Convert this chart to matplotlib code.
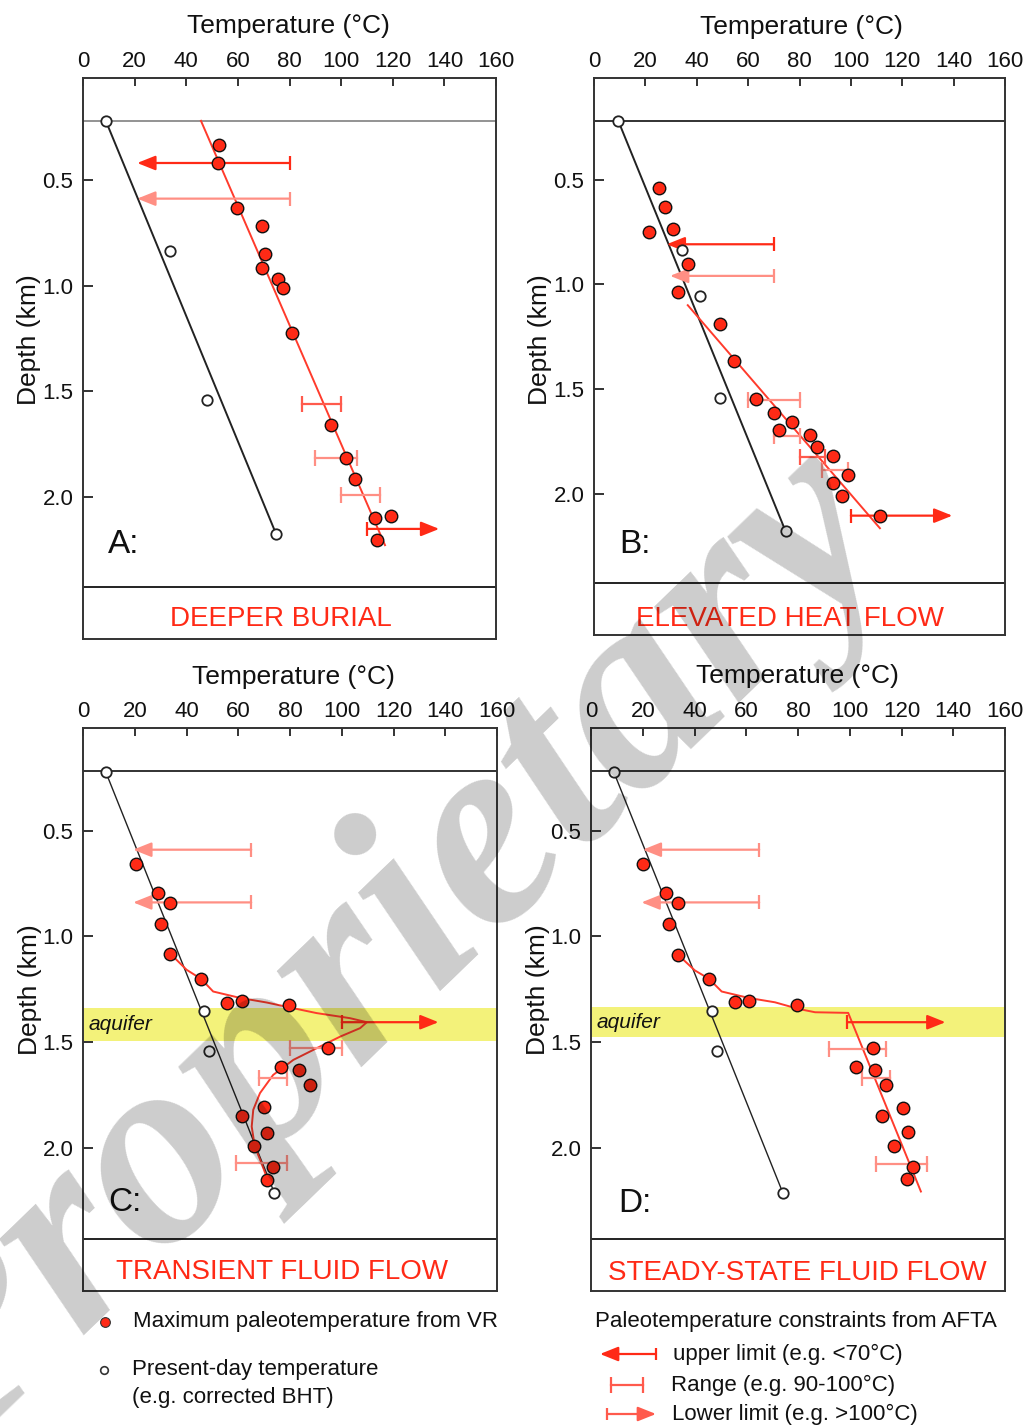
import matplotlib
matplotlib.use("Agg")
import matplotlib.pyplot as plt

plt.rcParams["font.family"] = ["Liberation Sans", "DejaVu Sans"]

W, H = 1032, 1428
RED = "#ff2a16"
MID = "#ff5a4c"
PALE = "#ff8f84"
LINE_RED = "#ff3b2c"
INK = "#222222"

TEMP_TICKS = [0, 20, 40, 60, 80, 100, 120, 140, 160]
DEPTH_TICKS = [0.5, 1.0, 1.5, 2.0]
DEPTH_LABELS = ["0.5", "1.0", "1.5", "2.0"]
SURFACE_D = 0.22
BASE_D = 2.428          # line above the scenario caption

# ---- A: deeper burial ----
A_vr_T = [52.8, 52.4, 59.8, 69.4, 70.5, 69.4, 75.4, 77.6, 81.1, 96.0, 101.8, 105.4, 113.1, 119.4, 113.8]
A_vr_d = [0.334, 0.418, 0.631, 0.715, 0.851, 0.917, 0.966, 1.009, 1.224, 1.658, 1.816, 1.914, 2.100, 2.091, 2.205]
A_bht_T = [8.9, 33.7, 48.2, 74.8]
A_bht_d = [0.22, 0.837, 1.54, 2.177]
A_grad_T = [8.9, 74.8]
A_grad_d = [0.22, 2.177]
A_model_T = [45.7, 117.0]
A_model_d = [0.218, 2.23]
A_upper = [(0.418, 80, 21)]
A_upper_pale = [(0.587, 80, 21)]
A_range = [(1.56, 85, 100)]
A_range_pale = [(1.816, 90, 106), (1.99, 100, 115)]
A_lower = [(2.153, 110, 138)]

# ---- B: elevated heat flow ----
B_vr_T = [25.4, 27.7, 30.6, 21.4, 36.7, 32.7, 49.0, 54.4, 63.1, 70.0, 77.0, 72.0, 84.1, 86.8,
          93.0, 99.0, 93.0, 96.6, 111.4]
B_vr_d = [0.54, 0.63, 0.734, 0.751, 0.902, 1.035, 1.188, 1.365, 1.549, 1.615, 1.658, 1.695, 1.72, 1.779,
          1.822, 1.913, 1.949, 2.013, 2.105]
B_bht_T = [9.5, 34.1, 41.2, 49.0, 74.6]
B_bht_d = [0.221, 0.837, 1.055, 1.544, 2.18]
B_grad_T = [9.5, 74.6]
B_grad_d = [0.221, 2.18]
B_model_T = [36.5, 111.3]
B_model_d = [1.10, 2.165]
B_upper = [(0.809, 70, 28.3)]
B_upper_pale = [(0.96, 70, 29.6)]
B_range = [(1.825, 80, 90)]
B_range_pale = [(1.555, 60, 80), (1.727, 70, 80), (1.886, 88.6, 99)]
B_lower = [(2.105, 100, 139.5)]

# ---- C: transient fluid flow ----
C_vr_T = [20.4, 28.8, 33.8, 30.2, 33.8, 45.7, 55.7, 61.3, 79.7, 94.8, 76.6, 83.6, 87.7, 69.9,
          61.5, 71.3, 66.2, 73.5, 71.3]
C_vr_d = [0.658, 0.795, 0.842, 0.939, 1.082, 1.201, 1.312, 1.304, 1.323, 1.528, 1.618, 1.630, 1.703, 1.808,
          1.846, 1.927, 1.990, 2.088, 2.150]
C_bht_T = [8.8, 46.7, 48.8, 74.0]
C_bht_d = [0.223, 1.351, 1.539, 2.213]
C_grad_T = [8.8, 74.0]
C_grad_d = [0.223, 2.213]
C_model_T = [33.8, 40.0, 45.7, 50.3, 60.6, 71.0, 81.3, 90.3, 103.2, 109.7, 107.1, 99.4, 91.6,
             81.3, 73.5, 68.4, 65.8, 65.2, 66.4, 69.0, 70.9, 71.5]
C_model_d = [1.082, 1.157, 1.201, 1.26, 1.29, 1.312, 1.339, 1.362, 1.386, 1.405, 1.433, 1.473, 1.52,
             1.583, 1.654, 1.74, 1.819, 1.898, 1.993, 2.071, 2.135, 2.159]
C_upper_pale = [(0.59, 65, 19.4), (0.839, 65, 19.4)]
C_range_pale = [(1.528, 80, 100), (1.67, 68, 79), (2.07, 59, 79)]
C_lower = [(1.405, 100, 137.4)]
C_aquifer = (1.336, 1.493)

# ---- D: steady-state fluid flow ----
D_vr_T = [20.2, 28.9, 33.6, 30.0, 33.6, 45.6, 55.7, 61.2, 79.7, 108.9, 102.6, 109.7, 113.9, 120.7,
          112.3, 122.4, 117.1, 124.3, 122.2]
D_vr_d = [0.658, 0.795, 0.842, 0.939, 1.086, 1.200, 1.311, 1.303, 1.323, 1.528, 1.618, 1.630, 1.702, 1.811,
          1.846, 1.924, 1.989, 2.087, 2.146]
D_bht_T = [8.8, 46.6, 48.6, 74.1]
D_bht_d = [0.223, 1.354, 1.539, 2.21]
D_grad_T = [8.8, 74.1]
D_grad_d = [0.223, 2.21]
D_model_T = [33.6, 40.1, 45.6, 50.5, 60.8, 71.1, 80.1, 86.6, 99.4, 127.5]
D_model_d = [1.086, 1.16, 1.2, 1.26, 1.29, 1.311, 1.342, 1.358, 1.361, 2.205]
D_upper_pale = [(0.59, 65, 20), (0.839, 65, 19.5)]
D_range_pale = [(1.531, 92, 114), (1.669, 104.6, 115.6), (2.073, 110, 130)]
D_lower = [(1.405, 99, 137)]
D_aquifer = (1.335, 1.476)


def arrow_limit(ax, d, limit, end, color, ms=10):
    ax.annotate("", xy=(end, d), xytext=(limit, d),
                arrowprops=dict(arrowstyle="-|>,head_length=0.55,head_width=0.22",
                                color=color, lw=1.6, shrinkA=0, shrinkB=0,
                                mutation_scale=20), zorder=4)
    ax.plot([limit], [d], marker="|", ms=ms, mew=1.6, color=color, zorder=4)


def t_range(ax, d, lo, hi, color):
    ax.plot([lo, hi], [d, d], color=color, lw=1.6, marker="|", ms=11, mew=1.6, zorder=4)


def panel(rect, vr_T, vr_d, bht_T, bht_d, grad_T, grad_d, model_T, model_d,
          upper=(), upper_pale=(), ranges=(), ranges_pale=(), lower=(),
          aquifer=None, surf_color=INK, grad_lw=1.4):
    l, t, r, b = rect
    ax = fig.add_axes([l / W, 1 - b / H, (r - l) / W, (b - t) / H])
    ax.set_xlim(0, 160)
    ax.set_ylim(2.675, 0.015)
    ax.xaxis.tick_top()
    ax.set_xticks(TEMP_TICKS)
    ax.set_yticks(DEPTH_TICKS, DEPTH_LABELS)
    ax.tick_params(axis="x", direction="in", length=6, width=1.2, labelsize=16,
                   pad=4, top=True, bottom=False, colors="#111111")
    ax.tick_params(axis="y", direction="in", length=7, width=1.2, labelsize=16,
                   pad=7, right=False, colors="#111111")
    for s in ax.spines.values():
        s.set_color("#333333")
        s.set_linewidth(1.4)

    if aquifer is not None:
        ax.axhspan(aquifer[0], aquifer[1], color="#f3f27a", zorder=0.5, lw=0)
        ax.text(2, (aquifer[0] + aquifer[1]) / 2, "aquifer", style="italic",
                fontsize=15, va="center", ha="left", color="#111111", zorder=1)
    ax.axhline(SURFACE_D, color=surf_color, lw=1.3, zorder=1)
    ax.axhline(BASE_D, color=INK, lw=1.4, zorder=1)

    ax.plot(grad_T, grad_d, color=INK, lw=grad_lw, zorder=2)
    ax.plot(model_T, model_d, color=LINE_RED, lw=1.4, zorder=2)

    for d, lim, end in upper:
        arrow_limit(ax, d, lim, end, RED)
    for d, lim, end in upper_pale:
        arrow_limit(ax, d, lim, end, PALE)
    for d, lo, hi in ranges:
        t_range(ax, d, lo, hi, MID)
    for d, lo, hi in ranges_pale:
        t_range(ax, d, lo, hi, PALE)
    for d, lim, end in lower:
        arrow_limit(ax, d, lim, end, RED)

    ax.plot(bht_T, bht_d, "o", ms=7.5, mfc="white", mec=INK, mew=1.3, zorder=5)
    ax.plot(vr_T, vr_d, "o", ms=9, mfc=RED, mec="#111111", mew=1.0, zorder=6)
    return ax


fig = plt.figure(figsize=(W / 100, H / 100), dpi=100)
fig.patch.set_facecolor("white")

panel((83, 78, 496, 639), A_vr_T, A_vr_d, A_bht_T, A_bht_d, A_grad_T, A_grad_d,
      A_model_T, A_model_d, upper=A_upper, upper_pale=A_upper_pale,
      ranges=A_range, ranges_pale=A_range_pale, lower=A_lower, surf_color="#8a8a8a")
panel((594, 78, 1005, 635), B_vr_T, B_vr_d, B_bht_T, B_bht_d, B_grad_T, B_grad_d,
      B_model_T, B_model_d, upper=B_upper, upper_pale=B_upper_pale,
      ranges=B_range, ranges_pale=B_range_pale, lower=B_lower)
panel((83, 728, 497, 1291), C_vr_T, C_vr_d, C_bht_T, C_bht_d, C_grad_T, C_grad_d,
      C_model_T, C_model_d, upper_pale=C_upper_pale, ranges_pale=C_range_pale,
      lower=C_lower, aquifer=C_aquifer, grad_lw=1.0)
panel((591, 728, 1005, 1291), D_vr_T, D_vr_d, D_bht_T, D_bht_d, D_grad_T, D_grad_d,
      D_model_T, D_model_d, upper_pale=D_upper_pale, ranges_pale=D_range_pale,
      lower=D_lower, aquifer=D_aquifer, grad_lw=1.0)

# overlay in pixel units for labels, legend and watermark
ov = fig.add_axes([0, 0, 1, 1], zorder=10)
ov.set_xlim(0, W)
ov.set_ylim(H, 0)
ov.axis("off")

titles = [(288, 33, 29, 340, 108, 553, 281, 626, "A:", "DEEPER BURIAL"),
          (801, 34, 540, 340, 619, 553, 790, 626, "B:", "ELEVATED HEAT FLOW"),
          (293, 684, 30, 990, 108, 1211, 282, 1279, "C:", "TRANSIENT FLUID FLOW"),
          (797, 683, 538, 990, 618, 1212, 797, 1280, "D:", "STEADY-STATE FLUID FLOW")]
for tx, ty, yx, yy, lx, ly, bx, by, letter, caption in titles:
    ov.text(tx, ty, "Temperature (°C)", fontsize=19, ha="center", va="baseline", color="#111111")
    ov.text(yx, yy, "Depth (km)", fontsize=19, rotation=90, ha="center", va="center", color="#111111")
    ov.text(lx, ly, letter, fontsize=24, ha="left", va="baseline", color="#111111")
    ov.text(bx, by, caption, fontsize=20, ha="center", va="baseline", color=RED)

# legend
ov.plot([105], [1322], "o", ms=7, mfc=RED, mec="#333333", mew=0.8)
ov.text(133, 1322, "Maximum paleotemperature from VR", fontsize=16, va="center", color="#111111")
ov.plot([104], [1370], "o", ms=5.5, mfc="white", mec="#333333", mew=1.2)
ov.text(132, 1370, "Present-day temperature", fontsize=16, va="center", color="#111111")
ov.text(132, 1397, "(e.g. corrected BHT)", fontsize=16, va="center", color="#111111")

ov.text(595, 1322, "Paleotemperature constraints from AFTA", fontsize=16, va="center", color="#111111")
arrow_limit(ov, 1354, 656, 600, RED, ms=9)
ov.text(673, 1354, "upper limit (e.g. <70°C)", fontsize=16, va="center", color="#111111")
ov.plot([611, 643], [1385, 1385], color=MID, lw=1.6, marker="|", ms=11, mew=1.6)
ov.text(671, 1385, "Range (e.g. 90-100°C)", fontsize=16, va="center", color="#111111")
arrow_limit(ov, 1414, 607, 656, MID, ms=9)
ov.text(672, 1414, "Lower limit (e.g. >100°C)", fontsize=16, va="center", color="#111111")

ov.text(384, 954, "Proprietary", fontsize=200, family="Liberation Serif", style="italic",
        weight="bold", rotation=44, rotation_mode="anchor", ha="center", va="center",
        color="black", alpha=0.2, zorder=20)

fig.savefig("out.png", dpi=100, facecolor="white")
